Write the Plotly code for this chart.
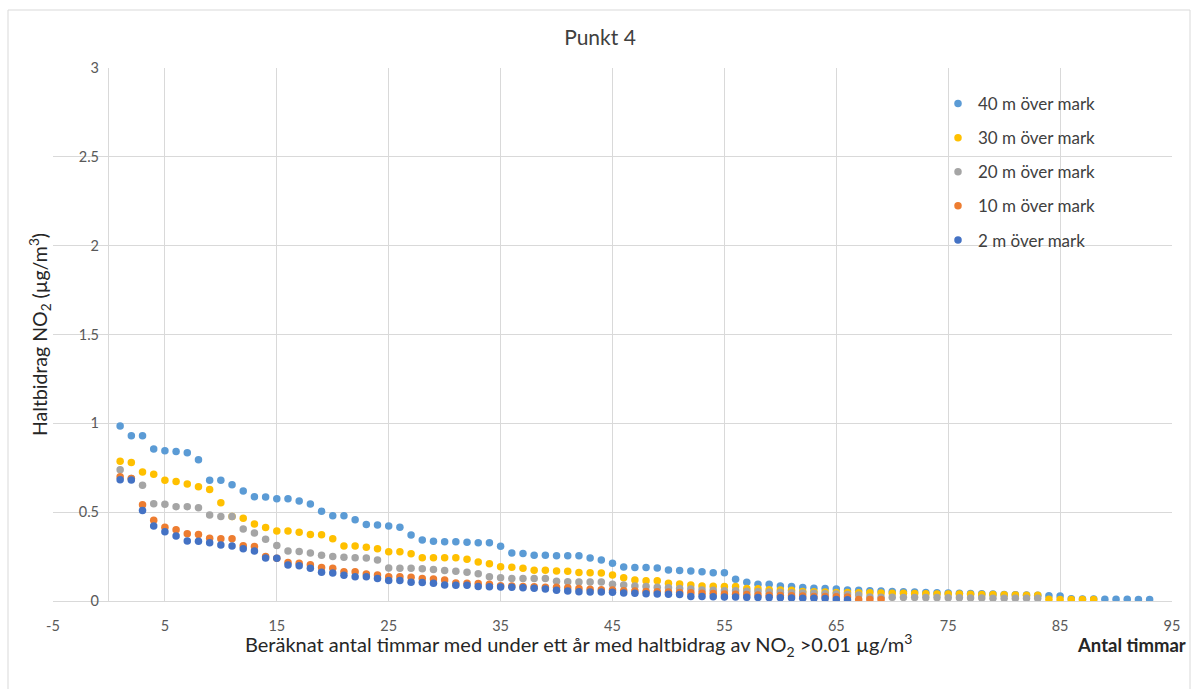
import plotly.graph_objects as go

# ---------------- data ----------------
series_names = ["40 m över mark", "30 m över mark", "20 m över mark", "10 m över mark", "2 m över mark"]
series_colors = ["#5B9BD5", "#FFC000", "#A5A5A5", "#ED7D31", "#4472C4"]

y_40m = [0.985, 0.93, 0.93, 0.855, 0.846, 0.842, 0.835, 0.795, 0.679, 0.679,
         0.655, 0.619, 0.587, 0.585, 0.576, 0.576, 0.563, 0.546, 0.505, 0.48,
         0.48, 0.458, 0.431, 0.428, 0.422, 0.415, 0.371, 0.343, 0.336, 0.334,
         0.334, 0.330, 0.328, 0.328, 0.308, 0.27, 0.268, 0.257, 0.257, 0.255,
         0.255, 0.255, 0.242, 0.231, 0.212, 0.191, 0.188, 0.188, 0.186, 0.174,
         0.171, 0.169, 0.165, 0.159, 0.159, 0.123, 0.106, 0.094, 0.094, 0.084,
         0.081, 0.076, 0.072, 0.071, 0.067, 0.062, 0.060, 0.058, 0.056, 0.054,
         0.052, 0.050, 0.048, 0.046, 0.045, 0.044, 0.042, 0.041, 0.039, 0.037,
         0.035, 0.034, 0.032, 0.030, 0.028, 0.012, 0.011, 0.011, 0.010, 0.010,
         0.010, 0.008, 0.008]

y_30m = [0.786, 0.779, 0.726, 0.713, 0.679, 0.673, 0.658, 0.643, 0.628, 0.553,
         0.475, 0.466, 0.433, 0.413, 0.394, 0.394, 0.387, 0.375, 0.373, 0.351,
         0.31, 0.31, 0.302, 0.294, 0.277, 0.277, 0.266, 0.244, 0.244, 0.244,
         0.244, 0.235, 0.219, 0.21, 0.193, 0.19, 0.184, 0.173, 0.173, 0.169,
         0.167, 0.16, 0.159, 0.158, 0.146, 0.131, 0.118, 0.114, 0.114, 0.1,
         0.096, 0.09, 0.084, 0.083, 0.082, 0.081, 0.071, 0.069, 0.064, 0.062,
         0.060, 0.054, 0.052, 0.050, 0.048, 0.048, 0.047, 0.046, 0.045, 0.044,
         0.043, 0.042, 0.041, 0.040, 0.040, 0.039, 0.038, 0.037, 0.036, 0.035,
         0.034, 0.033, 0.032, 0.010, 0.008, 0.008, 0.008, 0.008]

y_20m = [0.739, 0.69, 0.651, 0.548, 0.544, 0.531, 0.531, 0.525, 0.484, 0.476,
         0.475, 0.405, 0.383, 0.347, 0.313, 0.281, 0.278, 0.27, 0.257, 0.25,
         0.246, 0.244, 0.242, 0.231, 0.186, 0.185, 0.184, 0.182, 0.178, 0.171,
         0.167, 0.162, 0.154, 0.137, 0.131, 0.126, 0.126, 0.126, 0.126, 0.111,
         0.108, 0.107, 0.107, 0.107, 0.094, 0.09, 0.084, 0.081, 0.078, 0.074,
         0.071, 0.068, 0.062, 0.060, 0.058, 0.057, 0.055, 0.053, 0.051, 0.049,
         0.047, 0.045, 0.043, 0.041, 0.039, 0.036, 0.034, 0.022, 0.021, 0.021,
         0.020, 0.020, 0.019, 0.019, 0.018, 0.018, 0.017, 0.017, 0.016, 0.016,
         0.016, 0.015, 0.015]

y_10m = [0.70, 0.69, 0.542, 0.454, 0.415, 0.401, 0.379, 0.375, 0.353, 0.351,
         0.351, 0.311, 0.307, 0.251, 0.24, 0.216, 0.212, 0.204, 0.188, 0.184,
         0.165, 0.165, 0.152, 0.146, 0.137, 0.137, 0.133, 0.126, 0.124, 0.118,
         0.101, 0.100, 0.099, 0.094, 0.086, 0.085, 0.081, 0.080, 0.078, 0.078,
         0.075, 0.071, 0.066, 0.064, 0.062, 0.058, 0.056, 0.054, 0.052, 0.050,
         0.048, 0.046, 0.044, 0.042, 0.040, 0.038, 0.036, 0.034, 0.032, 0.031,
         0.030, 0.028, 0.026, 0.025, 0.024, 0.022, 0.008, 0.008, 0.008]

y_2m = [0.683, 0.681, 0.51, 0.422, 0.39, 0.366, 0.338, 0.336, 0.328, 0.315,
        0.31, 0.294, 0.281, 0.242, 0.241, 0.203, 0.199, 0.184, 0.162, 0.158,
        0.145, 0.137, 0.136, 0.126, 0.116, 0.116, 0.105, 0.104, 0.1, 0.09,
        0.089, 0.088, 0.081, 0.080, 0.079, 0.077, 0.075, 0.072, 0.068, 0.060,
        0.056, 0.052, 0.051, 0.050, 0.049, 0.045, 0.043, 0.041, 0.040, 0.038,
        0.036, 0.026, 0.025, 0.024, 0.023, 0.022, 0.021, 0.020, 0.019, 0.018,
        0.017, 0.016, 0.015, 0.014, 0.008, 0.007]

series_values = [y_40m, y_30m, y_20m, y_10m, y_2m]

x_ticks = [-5, 5, 15, 25, 35, 45, 55, 65, 75, 85, 95]
y_ticks = [0, 0.5, 1, 1.5, 2, 2.5, 3]
y_tick_labels = ["0", "0.5", "1", "1.5", "2", "2.5", "3"]

# ---------------- layout geometry ----------------
W, H = 1198, 689
ML, MR, MT, MB = 53, 26, 68, 88
PW, PH = W - ML - MR, H - MT - MB

def px(x):  # pixel -> paper fraction (x)
    return (x - ML) / PW

def py(y):  # pixel -> paper fraction (y)
    return (H - MB - y) / PH

FONT = "Lato, 'Open Sans', sans-serif"
GRID = "#d9d9d9"

fig = go.Figure()
for name, color, vals in zip(series_names, series_colors, series_values):
    fig.add_trace(go.Scatter(
        x=list(range(1, len(vals) + 1)), y=vals, mode="markers", name=name,
        legendgroup=name,
        marker=dict(color=color, size=7.5, line=dict(width=0)),
    ))

fig.update_layout(
    width=W, height=H,
    margin=dict(l=ML, r=MR, t=MT, b=MB),
    paper_bgcolor="white", plot_bgcolor="white",
    font=dict(family=FONT, color="#595959"),
    title=dict(text="Punkt 4", x=px(600), xanchor="center", xref="paper",
               y=1 - 38 / H, yanchor="middle",
               font=dict(size=21, color="#404040", family=FONT)),
    showlegend=True,
    legend=dict(x=px(938), y=py(86), xanchor="left", yanchor="top",
                bgcolor="rgba(255,255,255,0)", traceorder="grouped",
                tracegroupgap=9, itemwidth=30,
                font=dict(size=17, color="#404040", family=FONT)),
    xaxis=dict(range=[-5, 95], tickvals=x_ticks, ticktext=[str(v) for v in x_ticks],
               showgrid=True, gridcolor=GRID, gridwidth=1,
               zeroline=True, zerolinecolor=GRID, zerolinewidth=1,
               showline=True, linecolor=GRID, linewidth=1, mirror=False,
               ticks="", ticklabelstandoff=12,
               tickfont=dict(size=14.5, color="#595959", family=FONT)),
    yaxis=dict(range=[0, 3], tickvals=y_ticks, ticktext=y_tick_labels,
               showgrid=True, gridcolor=GRID, gridwidth=1, zeroline=False,
               anchor="free", position=px(109), showline=False,
               ticks="", ticklabelstandoff=10,
               tickfont=dict(size=14.5, color="#595959", family=FONT)),
)

# white box behind legend (covers gridlines)
fig.add_shape(type="rect", xref="paper", yref="paper",
              x0=px(902), x1=px(1146), y0=py(256), y1=py(87),
              fillcolor="white", line=dict(width=0), layer="between")

# outer chart border
fig.add_shape(type="rect", xref="paper", yref="paper",
              x0=px(8), x1=px(1190), y0=py(700), y1=py(10),
              fillcolor="rgba(0,0,0,0)", line=dict(color=GRID, width=1), layer="below")

# axis titles
fig.add_annotation(text="Beräknat antal timmar med under ett år med haltbidrag av NO<sub>2</sub> >0.01 µg/m<sup>3</sup>",
                   xref="paper", yref="paper", x=px(578), y=py(645),
                   xanchor="center", yanchor="middle", showarrow=False,
                   font=dict(size=20, color="#262626", family=FONT))
fig.add_annotation(text="<b>Antal timmar</b>",
                   xref="paper", yref="paper", x=px(1188), y=py(645),
                   xanchor="right", yanchor="middle", showarrow=False,
                   font=dict(size=18.5, color="#262626", family=FONT))
fig.add_annotation(text="Haltbidrag NO<sub>2</sub> (µg/m<sup>3</sup>)",
                   xref="paper", yref="paper", x=px(40), y=py(335),
                   xanchor="center", yanchor="middle", showarrow=False, textangle=-90,
                   font=dict(size=19.5, color="#262626", family=FONT))

fig.write_html("out.html")
